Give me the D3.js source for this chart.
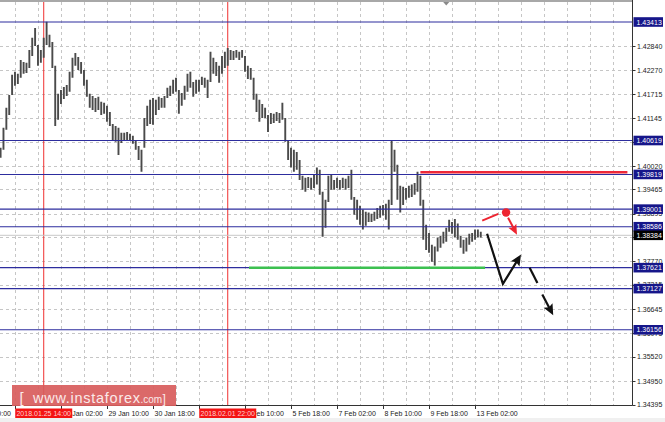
<!DOCTYPE html>
<html><head><meta charset="utf-8">
<script src="https://cdn.jsdelivr.net/npm/d3@7/dist/d3.min.js"></script>
<style>
html,body{margin:0;padding:0;background:#fff;}
svg{display:block;font-family:"Liberation Sans",Arial,sans-serif;}
</style></head><body>
<svg id="c" width="665" height="422"></svg>
<script>
// ---- DATA (H2 bars, index 0 = 24 Jan ~08:00) ----
const barHigh = [
1.4045,1.4092,1.4139,1.4169,1.4217,1.4224,1.4219,1.4252,1.4247,1.4245,
1.4275,1.4304,1.4327,1.4287,1.4275,1.4304,1.4342,1.4311,1.4294,1.4238,
1.4172,1.4181,1.4188,1.4193,1.4224,1.4257,1.4268,1.4259,1.4247,1.4228,
1.4205,1.4172,1.4167,1.4162,1.4165,1.4153,1.4151,1.4144,1.4129,1.4101,
1.4096,1.4092,1.4080,1.4080,1.4082,1.4078,1.4073,1.4063,1.4049,1.4040,
1.4115,1.4144,1.4158,1.4162,1.4158,1.4165,1.4162,1.4167,1.4186,1.4191,
1.4205,1.4210,1.4181,1.4174,1.4191,1.4219,1.4224,1.4200,1.4205,1.4205,
1.4212,1.4210,1.4205,1.4271,1.4257,1.4247,1.4238,1.4261,1.4271,1.4280,
1.4275,1.4273,1.4275,1.4271,1.4275,1.4261,1.4238,1.4233,1.4210,1.4172,
1.4158,1.4148,1.4139,1.4122,1.4127,1.4125,1.4129,1.4127,1.4151,1.4115,
1.4063,1.4045,1.4040,1.4035,1.4016,1.3979,1.3974,1.3976,1.3974,1.3981,
1.3998,1.3993,1.3941,1.3922,1.3979,1.3981,1.3969,1.3974,1.3969,1.3974,
1.3972,1.3979,1.3993,1.3929,1.3922,1.3908,1.3899,1.3894,1.3892,1.3889,
1.3894,1.3903,1.3908,1.3910,1.3913,1.3922,1.4063,1.4040,1.4005,1.3955,
1.3953,1.3950,1.3955,1.3958,1.3962,1.3988,1.3979,1.3922,1.3863,1.3844,
1.3816,1.3812,1.3833,1.3837,1.3847,1.3856,1.3875,1.3870,1.3877,1.3866,
1.3837,1.3828,1.3833,1.3842,1.3844,1.3852,1.3852,1.3847];
const barLow = [
1.4021,1.4040,1.4087,1.4122,1.4169,1.4191,1.4195,1.4210,1.4219,1.4221,
1.4233,1.4261,1.4285,1.4238,1.4245,1.4257,1.4287,1.4282,1.4233,1.4096,
1.4111,1.4148,1.4160,1.4167,1.4177,1.4210,1.4238,1.4228,1.4219,1.4191,
1.4165,1.4139,1.4134,1.4129,1.4134,1.4122,1.4125,1.4106,1.4096,1.4063,
1.4059,1.4028,1.4056,1.4061,1.4063,1.4061,1.4054,1.4040,1.4016,1.3988,
1.4045,1.4096,1.4101,1.4099,1.4122,1.4134,1.4139,1.4139,1.4162,1.4167,
1.4172,1.4177,1.4125,1.4144,1.4158,1.4177,1.4186,1.4165,1.4172,1.4177,
1.4193,1.4186,1.4162,1.4200,1.4219,1.4214,1.4198,1.4219,1.4233,1.4238,
1.4252,1.4252,1.4257,1.4252,1.4257,1.4224,1.4207,1.4205,1.4158,1.4129,
1.4106,1.4115,1.4115,1.4082,1.4101,1.4103,1.4108,1.4103,1.4111,1.4059,
1.4016,1.3998,1.3988,1.3993,1.3969,1.3946,1.3941,1.3950,1.3946,1.3950,
1.3958,1.3934,1.3835,1.3856,1.3917,1.3946,1.3946,1.3950,1.3946,1.3950,
1.3946,1.3950,1.3922,1.3887,1.3875,1.3863,1.3852,1.3861,1.3870,1.3870,
1.3873,1.3877,1.3880,1.3885,1.3875,1.3852,1.3910,1.3988,1.3922,1.3892,
1.3910,1.3922,1.3927,1.3929,1.3934,1.3941,1.3908,1.3828,1.3804,1.3797,
1.3776,1.3767,1.3800,1.3809,1.3819,1.3823,1.3847,1.3842,1.3833,1.3828,
1.3809,1.3795,1.3800,1.3816,1.3823,1.3828,1.3833,1.3833];
const lastPrice = 1.38384;
const levelPrices = [1.43413, 1.40619, 1.39819, 1.39001, 1.38586, 1.37621, 1.37127, 1.36156];
const yTickValues = [1.34395,1.34950,1.35520,1.36075,1.36645,1.37215,1.37770,1.38340,1.38895,1.39465,1.40020,1.40590,1.41145,1.41715,1.42270,1.42840];
const xTickIndex = [-11, 5, 21, 37, 53, 69, 85, 101, 117, 133, 149, 165];
const xTickLabels = ["23 Jan 10:00","24 Jan 18:00","26 Jan 02:00","29 Jan 10:00","30 Jan 18:00","1 Feb 02:00","2 Feb 10:00","5 Feb 18:00","7 Feb 02:00","8 Feb 10:00","9 Feb 18:00","13 Feb 02:00"];
const markerIndex = [15, 79];
const markerLabels = ["2018.01.25 14:00", "2018.02.01 22:00"];
const resistanceLine = [[146, 1.3987], [218, 1.3987]];
const supportLine = [[86.4, 1.3762], [168.5, 1.3762]];
const redSegment = [[167.5, 1.3873], [173.1, 1.3889]];
const redDot = [175.8, 1.3892];
const redArrow = [[176.5, 1.3880], [179.6, 1.3840]];
const blackArrow1 = [[169.2, 1.3842], [174.7, 1.3724], [181.0, 1.3793]];
const blackDash = [[184.0, 1.3762], [186.7, 1.3726]];
const blackArrow2 = [[188.4, 1.3699], [192.2, 1.3650]];
const shiftMarkIndex = 155;

// ---- LAYOUT ----
const plotL = 0, plotT = 2, plotR = 632.5, plotB = 405;
const svg = d3.select("#c");
const x = d3.scaleLinear().domain([0, 219.6]).range([0.6, 632]);
const y = d3.scaleLinear().domain([1.34395, 1.43413]).range([404.5, 22]);

svg.append("rect").attr("width", 665).attr("height", 422).attr("fill", "#fff");
svg.append("rect").attr("x", 0).attr("y", 418).attr("width", 665).attr("height", 4).attr("fill", "#f0f0f0");

svg.append("clipPath").attr("id", "pc").append("rect")
  .attr("x", plotL).attr("y", plotT).attr("width", plotR - plotL).attr("height", plotB - plotT);
const g = svg.append("g").attr("clip-path", "url(#pc)");

// grid
const gridIdx = d3.range(5, 219, 8);
g.selectAll("line.vg").data(gridIdx).enter().append("line")
  .attr("x1", d => Math.round(x(d)) + 0.5).attr("x2", d => Math.round(x(d)) + 0.5)
  .attr("y1", plotT).attr("y2", plotB)
  .attr("stroke", "#c6c6c6").attr("stroke-dasharray", "3,3");
g.selectAll("line.hg").data(yTickValues.slice(1)).enter().append("line")
  .attr("x1", plotL).attr("x2", plotR)
  .attr("y1", d => Math.round(y(d)) + 0.5).attr("y2", d => Math.round(y(d)) + 0.5)
  .attr("stroke", "#c6c6c6").attr("stroke-dasharray", "3,3");

// red vertical markers
g.selectAll("line.mk").data(markerIndex).enter().append("line")
  .attr("x1", d => x(d)).attr("x2", d => x(d)).attr("y1", plotT).attr("y2", plotB)
  .attr("stroke", "#f03030").attr("stroke-width", 1);

// current price line
g.append("line").attr("x1", plotL).attr("x2", plotR)
  .attr("y1", y(lastPrice)).attr("y2", y(lastPrice))
  .attr("stroke", "#c8c8c8").attr("stroke-width", 1);

// bars
g.selectAll("line.bar").data(barHigh).enter().append("line")
  .attr("x1", (d, i) => x(i)).attr("x2", (d, i) => x(i))
  .attr("y1", d => y(d)).attr("y2", (d, i) => y(barLow[i]))
  .attr("stroke", "#4a4a4a").attr("stroke-width", 1.9);

// levels
g.selectAll("line.lv").data(levelPrices).enter().append("line")
  .attr("x1", plotL).attr("x2", plotR)
  .attr("y1", d => y(d)).attr("y2", d => y(d))
  .attr("stroke", "#2d2d9e").attr("stroke-width", 1.1);

// resistance / support
const ln = d3.line().x(d => x(d[0])).y(d => y(d[1]));
g.append("path").attr("d", ln(resistanceLine)).attr("stroke", "#ee2838").attr("stroke-width", 2.6).attr("fill", "none");
g.append("path").attr("d", ln(supportLine)).attr("stroke", "#3cc050").attr("stroke-width", 2.6).attr("fill", "none");

function arrowHead(pts, color, len, half) {
  const a = pts[pts.length - 2], b = pts[pts.length - 1];
  const ax = x(a[0]), ay = y(a[1]), bx = x(b[0]), by = y(b[1]);
  const dx = bx - ax, dy = by - ay, L = Math.hypot(dx, dy);
  const ux = dx / L, uy = dy / L;
  const baseX = bx - ux * len, baseY = by - uy * len;
  const p = [[bx, by], [baseX - uy * half, baseY + ux * half], [baseX + ux * 2, baseY + uy * 2], [baseX + uy * half, baseY - ux * half]];
  g.append("path").attr("d", "M" + p.map(q => q.join(",")).join("L") + "Z").attr("fill", color);
}
function shaft(pts, color, w, shorten) {
  const q = pts.map(d => [x(d[0]), y(d[1])]);
  if (shorten) {
    const a = q[q.length - 2], b = q[q.length - 1];
    const L = Math.hypot(b[0] - a[0], b[1] - a[1]);
    q[q.length - 1] = [b[0] - (b[0] - a[0]) / L * shorten, b[1] - (b[1] - a[1]) / L * shorten];
  }
  g.append("path").attr("d", d3.line()(q)).attr("stroke", color).attr("stroke-width", w).attr("fill", "none");
}
// red
shaft(redSegment, "#ee2430", 2, 0);
g.append("circle").attr("cx", x(redDot[0])).attr("cy", y(redDot[1])).attr("r", 4.2).attr("fill", "#ee2430");
shaft(redArrow, "#ee2430", 2, 6);
arrowHead(redArrow, "#ee2430", 10, 4.5);
// black
shaft(blackArrow1, "#111", 2.2, 6);
arrowHead(blackArrow1, "#111", 11, 5);
shaft(blackDash, "#111", 2.2, 0);
shaft(blackArrow2, "#111", 2.2, 6);
arrowHead(blackArrow2, "#111", 11, 5);

// top shift marker
svg.append("path").attr("d", `M${x(shiftMarkIndex) - 3.5},1.5L${x(shiftMarkIndex) + 3.5},1.5L${x(shiftMarkIndex)},5.5Z`).attr("fill", "#8a8a8a");

// borders
svg.append("line").attr("x1", 0).attr("x2", plotR).attr("y1", 1).attr("y2", 1).attr("stroke", "#a8a8a8").attr("stroke-width", 2);
svg.append("line").attr("x1", plotR).attr("x2", plotR).attr("y1", 0).attr("y2", plotB + 0.5).attr("stroke", "#333");
svg.append("line").attr("x1", 0).attr("x2", plotR).attr("y1", plotB + 0.5).attr("y2", plotB + 0.5).attr("stroke", "#333");

// y axis ticks & labels (labels completely covered by a level box are not drawn, as in the reference)
const boxVals = levelPrices.concat([lastPrice]);
svg.selectAll("line.yt").data(yTickValues).enter().append("line")
  .attr("x1", plotR).attr("x2", plotR + 3).attr("y1", d => Math.round(y(d)) + 0.5).attr("y2", d => Math.round(y(d)) + 0.5)
  .attr("stroke", "#333");
svg.selectAll("text.yl").data(yTickValues.filter(v => !boxVals.some(b => Math.abs(y(b) - y(v)) < 2.5))).enter().append("text")
  .attr("x", 637).attr("y", d => y(d) + 2.6).attr("font-size", 7).attr("fill", "#222")
  .text(d => d.toFixed(5));
const boxes = svg.selectAll("g.lb").data(boxVals).enter().append("g");
boxes.append("rect").attr("x", 633.5).attr("y", d => y(d) - 4.8).attr("width", 29.5).attr("height", 9.6)
  .attr("fill", d => d === lastPrice ? "#000" : "#16168a");
boxes.append("text").attr("x", 636.5).attr("y", d => y(d) + 2.6).attr("font-size", 7).attr("fill", "#fff")
  .text(d => d.toFixed(5));

// x axis ticks & labels
svg.selectAll("line.xt").data(xTickIndex).enter().append("line")
  .attr("x1", d => Math.round(x(d)) + 0.5).attr("x2", d => Math.round(x(d)) + 0.5)
  .attr("y1", plotB).attr("y2", plotB + 4).attr("stroke", "#333");
const markerBoxW = 57;
const xLab = svg.selectAll("text.xl").data(xTickIndex.map((k, i) => ({k, t: xTickLabels[i]}))).enter().append("text")
  .attr("x", d => x(d.k) + 1.5).attr("y", 415.5).attr("font-size", 7).attr("fill", "#222")
  .text(d => d.t);
// hide labels that sit fully under a marker time box
xLab.each(function(d) {
  const s = x(d.k) + 1.5, e = s + this.getComputedTextLength();
  if (markerIndex.some(m => s >= x(m) - markerBoxW / 2 - 1 && e <= x(m) + markerBoxW / 2 + 1)) d3.select(this).remove();
});
const mk = svg.selectAll("g.mkl").data(markerIndex).enter().append("g");
mk.append("rect").attr("x", d => x(d) - markerBoxW / 2).attr("y", 408.5).attr("width", markerBoxW).attr("height", 9.5).attr("fill", "#f41414");
mk.append("text").attr("x", d => x(d)).attr("y", 415.7).attr("text-anchor", "middle").attr("font-size", 7)
  .attr("fill", "#ffd0d0").text((d, i) => markerLabels[i]);

// logo
const logo = svg.append("g");
logo.append("rect").attr("x", 12).attr("y", 385).attr("width", 164).attr("height", 21).attr("fill", "#d85c5c").attr("opacity", 0.92);
logo.append("text").attr("x", 19.5).attr("y", 403).attr("font-size", 15).attr("fill", "#fbeaea").text("[");
logo.append("text").attr("x", 33).attr("y", 403).attr("font-size", 14.5).attr("fill", "#fbeaea")
  .attr("textLength", 107).attr("lengthAdjust", "spacing").text("www.instaforex");
logo.append("text").attr("x", 140.5).attr("y", 403).attr("font-size", 10).attr("fill", "#fbeaea").text(".com");
logo.append("text").attr("x", 162.5).attr("y", 403).attr("font-size", 12).attr("fill", "#fbeaea").text("]");
</script>
</body></html>
